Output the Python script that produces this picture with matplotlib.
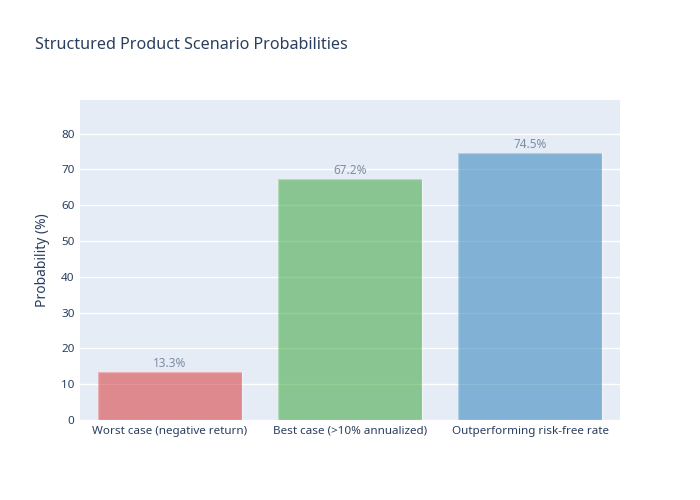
import matplotlib
matplotlib.use("Agg")
import matplotlib.pyplot as plt

# scenario data
scenarios = ["Worst case (negative return)", "Best case (>10% annualized)", "Outperforming risk-free rate"]
probabilities = [13.3, 67.2, 74.5]
bar_colors = ["#d62728", "#2ca02c", "#1f77b4"]

plt.rcParams["font.family"] = ["Noto Sans", "DejaVu Sans"]

fig = plt.figure(figsize=(7, 5), dpi=100)
fig.patch.set_facecolor("white")
ax = fig.add_axes([80 / 700, 80 / 500, 540 / 700, 320 / 500])
ax.set_facecolor("#e5ecf6")

x = range(len(scenarios))
bars = ax.bar(x, probabilities, width=0.8, color=bar_colors, alpha=0.5,
              linewidth=0, zorder=3)
# thin light outline like plotly's marker line
ax.bar(x, probabilities, width=0.8, fill=False, edgecolor="white",
       alpha=0.35, linewidth=1, zorder=3)

for i, p in enumerate(probabilities):
    ax.annotate(f"{p}%", (i, p), xytext=(0, 2), textcoords="offset points",
                ha="center", va="bottom", fontsize=8.5, color="#2a3f5f",
                alpha=0.55, zorder=4)

ax.set_xlim(-0.5, len(scenarios) - 0.5)
ax.set_ylim(0, max(probabilities) * 1.2)
ax.set_yticks(range(0, 90, 10))
ax.set_xticks(list(x))
ax.set_xticklabels(scenarios)
ax.grid(axis="y", color="white", linewidth=1, zorder=0)
ax.set_axisbelow(True)
for s in ax.spines.values():
    s.set_visible(False)
ax.tick_params(length=0, labelsize=8.4, colors="#2a3f5f", pad=4)
ax.set_ylabel("Probability (%)", fontsize=10, color="#2a3f5f", labelpad=8)

fig.text(35 / 700, 1 - 45 / 500, "Structured Product Scenario Probabilities",
         fontsize=11.6, color="#2a3f5f", ha="left", va="center")

fig.savefig("out.png", dpi=100)
